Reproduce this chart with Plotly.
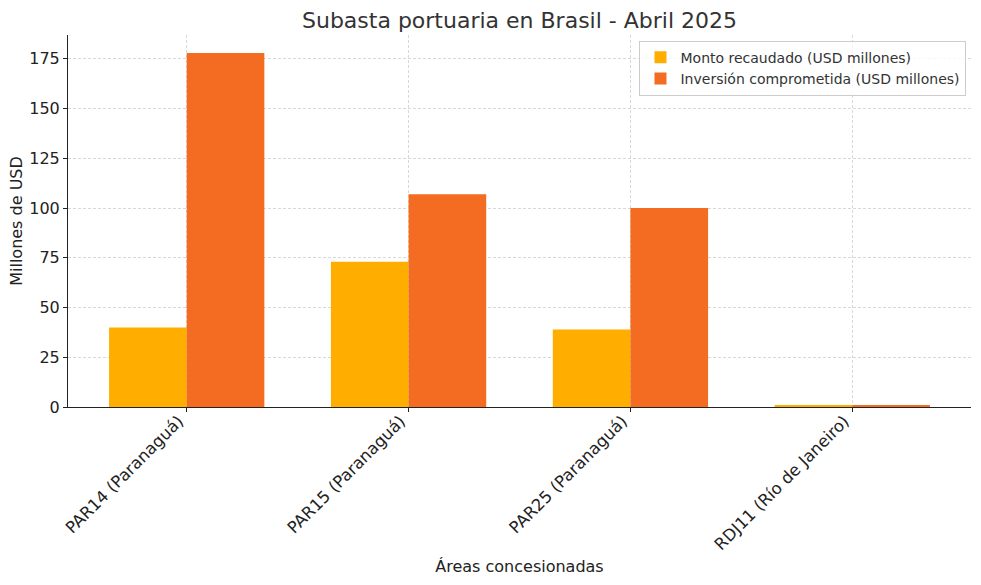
import plotly.graph_objects as go

categories = ["PAR14 (Paranaguá)", "PAR15 (Paranaguá)", "PAR25 (Paranaguá)", "RDJ11 (Río de Janeiro)"]
monto = [40, 73, 39, 1]
inversion = [178, 107, 100, 1]

fig = go.Figure()
fig.add_trace(go.Bar(x=categories, y=monto, name="Monto recaudado (USD millones)",
                     marker=dict(color="#FFAE00", line=dict(width=0))))
fig.add_trace(go.Bar(x=categories, y=inversion, name="Inversión comprometida (USD millones)",
                     marker=dict(color="#F36C21", line=dict(width=0))))

fig.update_layout(
    width=981, height=585,
    margin=dict(l=68, r=10, t=35, b=178, autoexpand=False),
    paper_bgcolor="white", plot_bgcolor="white",
    font=dict(family="DejaVu Sans", size=16, color="#222222"),
    barmode="group", bargap=0.3, bargroupgap=0,
    title=dict(text="Subasta portuaria en Brasil - Abril 2025", x=0.5, xanchor="center", xref="paper",
               y=0.965, yanchor="middle", font=dict(size=22, color="#333333")),
    legend=dict(x=0.995, y=0.985, xanchor="right", yanchor="top",
                bgcolor="rgba(255,255,255,0.8)", bordercolor="#cccccc", borderwidth=1,
                font=dict(size=14, color="#333333"), tracegroupgap=0),
    xaxis=dict(
        type="category", range=[-0.535, 3.535], tickangle=-45, automargin=False,
        ticklabelstandoff=-7, ticklabelshift=-8,
        showgrid=True, gridcolor="#d8d8d8", griddash="3px,2px", gridwidth=1,
        showline=True, linecolor="#222222", linewidth=1,
        ticks="outside", ticklen=4, tickcolor="#222222",
        tickfont=dict(size=16.5),
        title=dict(text="Áreas concesionadas", font=dict(size=16), standoff=7),
    ),
    yaxis=dict(
        range=[0, 187], tickvals=[0, 25, 50, 75, 100, 125, 150, 175], automargin=False,
        showgrid=True, gridcolor="#d8d8d8", griddash="3px,2px", gridwidth=1,
        showline=True, linecolor="#222222", linewidth=1, zeroline=False,
        ticks="outside", ticklen=4, tickcolor="#222222",
        title=dict(text="Millones de USD", font=dict(size=16), standoff=2),
    ),
)

fig.write_html("out.html", config={"displayModeBar": False},
               post_script="document.body.style.margin='0';")
